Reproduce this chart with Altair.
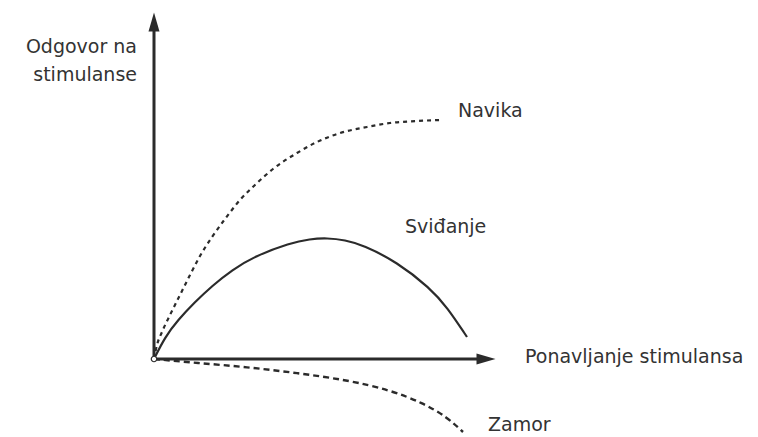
import altair as alt
import pandas as pd

INK = "#2b2b2b"
TXT = "#333333"
FONT = "DejaVu Sans"

# Curves (x = repetitions, y = response)
navika_x = [0, 3, 8, 16, 26, 36, 46, 58, 71, 86, 102, 119, 143, 163, 186, 213, 236, 263, 286]
navika_y = [0, 14, 27, 44, 64, 84, 103, 122, 140, 159, 175, 190, 206, 217, 226, 232, 236, 238, 239]

svidjanje_x = [0, 11, 24, 41, 58, 78, 101, 136, 156, 173, 191, 209, 243, 276, 293, 313]
svidjanje_y = [0, 22, 39, 57, 73, 89, 103, 116, 120, 121, 119, 114, 97, 71, 52, 22]

zamor_x = [0, 43, 93, 143, 193, 236, 269, 293, 309]
zamor_y = [0, -4, -8, -14, -21, -31, -44, -58, -73]

# Axis arrows
axis_x0 = [0, 0]
axis_y0 = [0, 0]
axis_x1 = [0, 324]
axis_y1 = [328, 0]
arrow_up = (0, 337)
arrow_right = (332, 0)

# Labels
label_text = ["Navika", "Sviđanje", "Ponavljanje stimulansa", "Zamor"]
label_x = [304, 251, 371, 334]
label_y = [242, 126, -4, -72]

ylabel_text = ["Odgovor na", "stimulanse"]
ylabel_x = [-17, -17]
ylabel_y = [306, 278]

W, H = 742, 429
xs = alt.Scale(domain=[-146, 596], nice=False, zero=False)
ys = alt.Scale(domain=[-78, 351], nice=False, zero=False)


def enc():
    return dict(
        x=alt.X("x:Q", scale=xs, axis=None),
        y=alt.Y("y:Q", scale=ys, axis=None),
    )


def curve(xv, yv, interp, dash=None, width=2.2):
    df = pd.DataFrame({"x": xv, "y": yv, "i": range(len(xv))})
    kw = dict(interpolate=interp, strokeWidth=width, color=INK)
    if dash:
        kw["strokeDash"] = dash
    return alt.Chart(df).mark_line(**kw).encode(order="i:Q", **enc())


axes_df = pd.DataFrame({"x": axis_x0, "y": axis_y0, "x2": axis_x1, "y2": axis_y1})
axes = alt.Chart(axes_df).mark_rule(strokeWidth=3, color=INK).encode(
    x2="x2:Q", y2="y2:Q", **enc()
)

head_up = alt.Chart(pd.DataFrame({"x": [arrow_up[0]], "y": [arrow_up[1]]})).mark_point(
    shape="M0,-1L0.58,1L-0.58,1Z", filled=True, size=361, color=INK, opacity=1, strokeWidth=0
).encode(**enc())

head_right = alt.Chart(pd.DataFrame({"x": [arrow_right[0]], "y": [arrow_right[1]]})).mark_point(
    shape="M1,0L-1,-0.58L-1,0.58Z", filled=True, size=361, color=INK, opacity=1, strokeWidth=0
).encode(**enc())

origin = alt.Chart(pd.DataFrame({"x": [0], "y": [0]})).mark_point(
    shape="circle", size=30, filled=True, fill="white", stroke=INK, strokeWidth=1.2, opacity=1
).encode(**enc())

labels = alt.Chart(pd.DataFrame({"t": label_text, "x": label_x, "y": label_y})).mark_text(
    align="left", baseline="alphabetic", font=FONT, fontSize=19, color=TXT
).encode(text="t:N", **enc())

ylabels = alt.Chart(pd.DataFrame({"t": ylabel_text, "x": ylabel_x, "y": ylabel_y})).mark_text(
    align="right", baseline="alphabetic", font=FONT, fontSize=19, color=TXT
).encode(text="t:N", **enc())

chart = alt.layer(
    curve(navika_x, navika_y, "monotone", dash=[4, 4], width=2.2),
    curve(svidjanje_x, svidjanje_y, "basis", width=2.2),
    curve(zamor_x, zamor_y, "basis", dash=[6, 4], width=2.4),
    axes,
    head_up,
    head_right,
    origin,
    labels,
    ylabels,
).properties(
    width=W, height=H, autosize=alt.AutoSizeParams(type="none"), padding=0
).configure_view(stroke=None)

chart.save("out.html", embed_options={"renderer": "svg", "actions": False})
